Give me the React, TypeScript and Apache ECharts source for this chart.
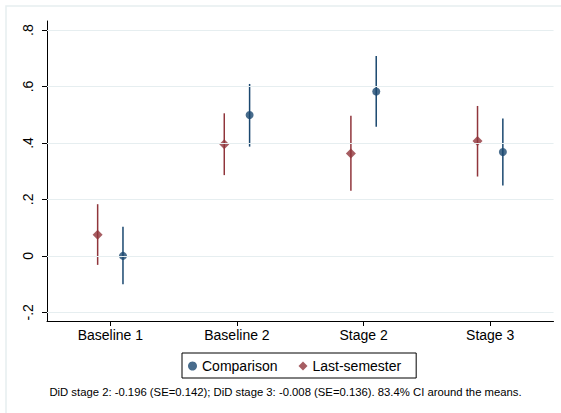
import React, { useEffect, useRef } from "react";
import * as echarts from "echarts";

const categories = ["Baseline 1", "Baseline 2", "Stage 2", "Stage 3"];
const comparisonMean = [0.0, 0.499, 0.582, 0.368];
const comparisonLow = [-0.101, 0.387, 0.457, 0.249];
const comparisonHigh = [0.103, 0.609, 0.708, 0.487];
const lastSemMean = [0.075, 0.395, 0.363, 0.407];
const lastSemLow = [-0.032, 0.286, 0.231, 0.281];
const lastSemHigh = [0.183, 0.505, 0.496, 0.531];
const yTickValues = [-0.2, 0, 0.2, 0.4, 0.6, 0.8];
const yTickLabels = ["-.2", "0", ".2", ".4", ".6", ".8"];
const note =
  "DiD stage 2: -0.196 (SE=0.142); DiD stage 3: -0.008 (SE=0.136). 83.4% CI around the means.";

const NAVY = "#1a476f";
const MAROON = "#90353b";
const FONT = "Liberation Sans, Arial, Helvetica, sans-serif";
const OFFSET = 0.1;

export default function App() {
  const ref = useRef<HTMLDivElement>(null);
  useEffect(() => {
    if (!ref.current) return;
    const chart = echarts.init(ref.current, undefined, { renderer: "svg" });

    const compPts = comparisonMean.map((v, i) => [i + 1 + OFFSET, v]);
    const lastPts = lastSemMean.map((v, i) => [i + 1 - OFFSET, v]);
    const compBars = comparisonMean.map((_, i) => [i + 1 + OFFSET, comparisonLow[i], comparisonHigh[i]]);
    const lastBars = lastSemMean.map((_, i) => [i + 1 - OFFSET, lastSemLow[i], lastSemHigh[i]]);

    const errRender = (color: string) => (params: any, api: any) => {
      const x = api.value(0);
      const p1 = api.coord([x, api.value(1)]);
      const p2 = api.coord([x, api.value(2)]);
      return {
        type: "line",
        shape: { x1: p1[0], y1: p1[1], x2: p2[0], y2: p2[1] },
        style: { stroke: color, lineWidth: 1.5 },
      };
    };

    chart.setOption({
      animation: false,
      backgroundColor: "#ffffff",
      textStyle: { fontFamily: FONT },
      grid: { left: 47, right: 7.5, top: 21, bottom: 92, containLabel: false },
      graphic: [
        {
          type: "rect",
          shape: { x: 6, y: 6, width: 570, height: 420 },
          style: { fill: "none", stroke: "#e6eef0", lineWidth: 1.5 },
          silent: true,
          z: -1,
        },
        {
          type: "text",
          x: 285.5,
          y: 392,
          style: {
            text: note,
            fontFamily: FONT,
            fontSize: 11.3,
            fill: "#000",
            align: "center",
            verticalAlign: "middle",
          },
        },
      ],
      legend: {
        left: 182,
        top: 353,
        orient: "horizontal",
        padding: [6, 15, 5, 6],
        itemGap: 21,
        itemWidth: 9,
        itemHeight: 9,
        borderColor: "#000",
        borderWidth: 1,
        textStyle: { fontSize: 14, color: "#000", fontFamily: FONT },
        data: [
          { name: "Comparison", icon: "circle" },
          { name: "Last-semester", icon: "diamond" },
        ],
      },
      xAxis: [
        {
          type: "category",
          data: categories,
          boundaryGap: true,
          axisLine: { show: true, onZero: false, lineStyle: { color: "#000", width: 1 } },
          axisTick: { show: true, alignWithLabel: true, length: 5, lineStyle: { color: "#000" } },
          axisLabel: { fontSize: 14, color: "#000", margin: 7, fontFamily: FONT },
          splitLine: { show: false },
        },
        {
          type: "value",
          min: 0.5,
          max: 4.5,
          show: false,
          axisLine: { onZero: false },
          splitLine: { show: false },
        },
      ],
      yAxis: {
        type: "value",
        min: -0.2308,
        max: 0.832,
        axisLine: { show: true, onZero: false, lineStyle: { color: "#000", width: 1 } },
        axisTick: {
          show: true,
          length: 5,
          lineStyle: { color: "#000" },
          customValues: yTickValues,
        },
        axisLabel: {
          rotate: 90,
          fontSize: 14,
          color: "#000",
          margin: 12,
          fontFamily: FONT,
          customValues: yTickValues,
          formatter: (v: number) => {
            const idx = yTickValues.findIndex((t) => Math.abs(t - v) < 1e-6);
            return idx >= 0 ? yTickLabels[idx] : "";
          },
        },
        splitLine: { show: false },
      },
      series: [
        {
          type: "custom",
          name: "gridlines",
          xAxisIndex: 1,
          data: [],
          renderItem: () => null,
          markLine: {
            silent: true,
            symbol: "none",
            label: { show: false },
            lineStyle: { color: "#e6eef0", width: 1.2, type: "solid" },
            data: yTickValues.map((v) => ({ yAxis: v })),
          },
          z: 0,
        },
        {
          type: "custom",
          name: "Last-semester-ci",
          xAxisIndex: 1,
          data: lastBars,
          renderItem: errRender(MAROON),
          z: 2,
        },
        {
          type: "custom",
          name: "Comparison-ci",
          xAxisIndex: 1,
          data: compBars,
          renderItem: errRender(NAVY),
          z: 2,
        },
        {
          type: "scatter",
          name: "Comparison",
          xAxisIndex: 1,
          data: compPts,
          symbol: "circle",
          symbolSize: 8,
          itemStyle: { color: NAVY },
          z: 3,
        },
        {
          type: "scatter",
          name: "Last-semester",
          xAxisIndex: 1,
          data: lastPts,
          symbol: "diamond",
          symbolSize: 10,
          itemStyle: { color: MAROON },
          z: 3,
        },
      ],
    });
    return () => chart.dispose();
  }, []);

  return (
    <div
      ref={ref}
      style={{ position: "fixed", left: 0, top: 0, width: 561, height: 413 }}
    />
  );
}
